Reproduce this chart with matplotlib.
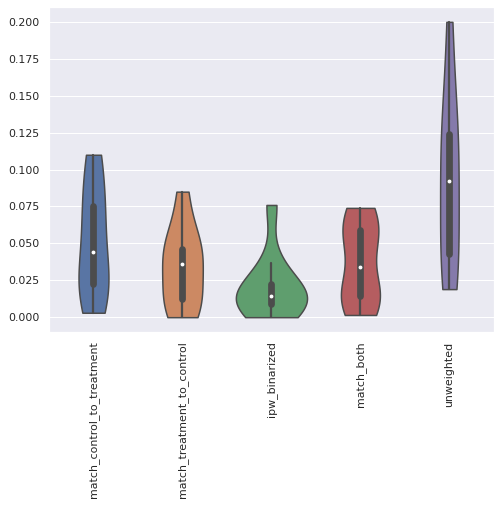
import matplotlib
matplotlib.use("Agg")
import matplotlib.pyplot as plt
import pandas as pd
import seaborn as sns

match_control_to_treatment = [0.003, 0.015, 0.022, 0.025, 0.030, 0.058, 0.068, 0.078, 0.100, 0.110]
match_treatment_to_control = [0.000, 0.005, 0.011, 0.015, 0.030, 0.042, 0.044, 0.047, 0.060, 0.085]
ipw_binarized = [0.000, 0.005, 0.008, 0.011, 0.013, 0.015, 0.019, 0.024, 0.037, 0.076]
match_both = [0.0015, 0.010, 0.013, 0.017, 0.020, 0.048, 0.055, 0.060, 0.068, 0.074]
unweighted = [0.019, 0.030, 0.040, 0.052, 0.085, 0.099, 0.118, 0.126, 0.150, 0.200]

df = pd.DataFrame({
    "match_control_to_treatment": match_control_to_treatment,
    "match_treatment_to_control": match_treatment_to_control,
    "ipw_binarized": ipw_binarized,
    "match_both": match_both,
    "unweighted": unweighted,
})

sns.set_theme()
fig = plt.figure(figsize=(501 / 72, 506 / 72), dpi=72)
ax = fig.add_axes([0.0978, 0.344, 0.888, 0.642])
sns.violinplot(data=df, cut=0, density_norm="area", common_norm=True,
               linewidth=1.5, linecolor="#4c4c4c",
               inner_kws={"marker": "o", "markersize": 2.5}, ax=ax)
ax.tick_params(axis="x", rotation=90)
fig.savefig("out.png", dpi=72)
